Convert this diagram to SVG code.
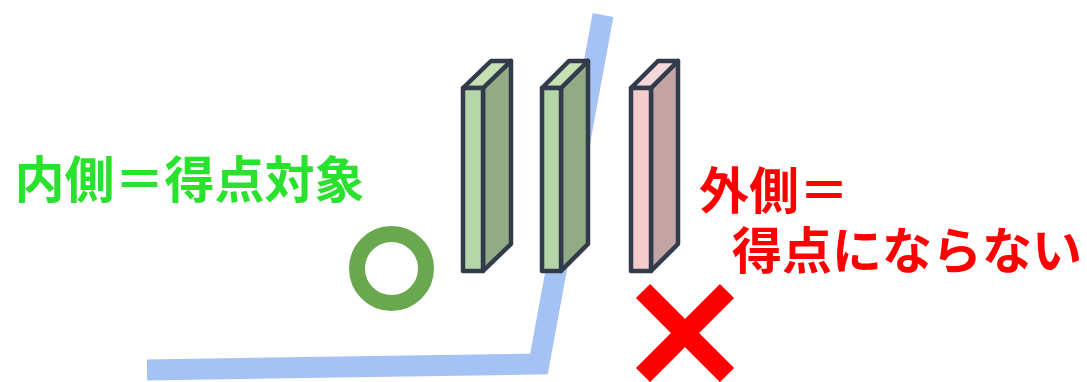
<svg xmlns="http://www.w3.org/2000/svg" width="1087" height="382" viewBox="0 0 1087 382">
<style>
.edge{fill:none;stroke:#a4c2f4;stroke-width:21;stroke-linejoin:miter}
.box path{stroke:#323b4c;stroke-width:4.5;stroke-linejoin:round}
.gf{fill:#b5d7a8}.gt{fill:#c6e0b4}.gs{fill:#93ab85}
.pf{fill:#f4cccc}.pt{fill:#f4d7d7}.ps{fill:#c4a3a5}
.lbl{font-family:"Noto Sans CJK JP","Noto Sans CJK SC",sans-serif;font-size:50px;font-weight:bold}
</style>
<g id="connectors">
<polyline class="edge" points="147,370 539,364 603,15"/>
</g>
<g id="box1" class="box">
<path class="gs" d="M483,88 L511,61 L511,244 L483,271 Z"/>
<path class="gt" d="M463,88 L491,61 L511,61 L483,88 Z"/>
<path class="gf" d="M463,88 H483 V271 H463 Z"/>
</g>
<g id="box2" class="box">
<path class="gs" d="M561,88 L588,61 L588,244 L561,271 Z"/>
<path class="gt" d="M542,88 L569,61 L588,61 L561,88 Z"/>
<path class="gf" d="M542,88 H561 V271 H542 Z"/>
</g>
<g id="box3" class="box">
<path class="ps" d="M651,88 L678,61 L678,244 L651,271 Z"/>
<path class="pt" d="M631,88 L658,61 L678,61 L651,88 Z"/>
<path class="pf" d="M631,88 H651 V271 H631 Z"/>
</g>
<g id="circle">
<circle cx="391.5" cy="268.5" r="34.5" fill="none" stroke="#6aa84f" stroke-width="16"/>
</g>
<g id="cross">
<path d="M643,291 L727,375 M727,291 L643,375" stroke="#ff0000" stroke-width="20" fill="none"/>
</g>
<g id="label-inside">
<text class="lbl" x="14.5" y="198" fill="#2ae12e">内側＝得点対象</text>
</g>
<g id="label-outside">
<text class="lbl" x="699" y="209" fill="#ff0000">外側＝</text>
<text class="lbl" x="732" y="269" fill="#ff0000">得点にならない</text>
</g>
</svg>
